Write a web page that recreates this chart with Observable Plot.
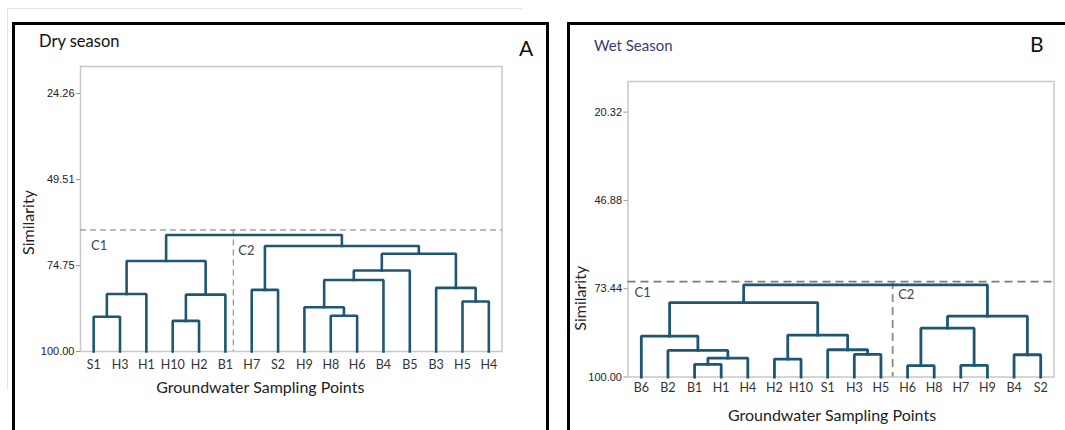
<!DOCTYPE html>
<html><head><meta charset="utf-8">
<script src="https://cdn.jsdelivr.net/npm/d3@7"></script>
<script src="https://cdn.jsdelivr.net/npm/@observablehq/plot@0.6"></script>
<style>
body{margin:0;background:#fff;font-family:Lato,"Open Sans",sans-serif;}
#page{position:relative;width:1065px;height:430px;overflow:hidden;background:#fff;}
.abs{position:absolute;}
.t{position:absolute;line-height:1;white-space:nowrap;transform:translateY(-50%);}
svg{position:absolute;top:0;}
</style></head><body><div id="page"></div>
<script>
// ---------- DATA ----------
const dryLeaves = ["S1","H3","H1","H10","H2","B1","H7","S2","H9","H8","H6","B4","B5","B3","H5","H4"];
const dryMerges = [["S1","H3"],["H10","H2"],["m0","H1"],["m1","B1"],["m2","m3"],
  ["H8","H6"],["H9","m5"],["m6","B4"],["m7","B5"],["H5","H4"],["B3","m9"],["m8","m10"],
  ["H7","S2"],["m12","m11"],["m4","m13"]];
const drySimilarity = [89.8,91.0,83.1,83.3,73.4,89.5,87.0,79.0,76.2,85.3,81.3,71.3,81.9,69.0,65.8];
const dryTicks = [24.26,49.51,74.75,100.00];
const dryAxisTop = 16.3;
const dryCut = 64.3;
const dryDivider = 5.3;

const wetLeaves = ["B6","B2","B1","H1","H4","H2","H10","S1","H3","H5","H6","H8","H7","H9","B4","S2"];
const wetMerges = [["B1","H1"],["m0","H4"],["B2","m1"],["B6","m2"],["H2","H10"],["H3","H5"],
  ["S1","m5"],["m4","m6"],["m3","m7"],["H6","H8"],["H7","H9"],["m9","m10"],["B4","S2"],
  ["m11","m12"],["m8","m13"]];
const wetSimilarity = [96.2,94.3,92.0,87.7,94.6,93.2,91.8,87.4,77.6,96.6,96.5,85.3,93.3,81.7,72.3];
const wetTicks = [20.32,46.88,73.44,100.00];
const wetAxisTop = 11.1;
const wetCut = 71.3;
const wetDivider = 9.44;

const clusterNames = ["C1","C2"];
const xTitle = "Groundwater Sampling Points";
const yTitle = "Similarity";

// ---------- BUILD ----------
function dendroRows(leaves, merges, sims) {
  const pos = new Map(leaves.map((d, i) => [d, {x: i, y: 100}]));
  const rows = [];
  merges.forEach(([a, b], k) => {
    const A = pos.get(a), B = pos.get(b), s = sims[k];
    rows.push({id: k, x: A.x, y: A.y}, {id: k, x: A.x, y: s}, {id: k, x: B.x, y: s}, {id: k, x: B.x, y: B.y});
    pos.set("m" + k, {x: (A.x + B.x) / 2, y: s});
  });
  return rows;
}

const lineColor = "#1f5673";

function panel(c) {
  const n = c.leaves.length;
  const rows = dendroRows(c.leaves, c.merges, c.sims);
  return Plot.plot({
    width: c.width, height: 430,
    marginLeft: c.ml, marginRight: c.mr, marginTop: c.mt, marginBottom: c.mb,
    x: {domain: [-0.5, n - 0.5], axis: null},
    y: {domain: [100, c.top], axis: null},
    style: {background: "transparent", fontFamily: "Lato, 'Open Sans', sans-serif", overflow: "visible"},
    marks: [
      Plot.frame({stroke: "#c8c8c8", strokeWidth: 1.5}),
      Plot.axisY({ticks: c.ticks, tickFormat: d => d.toFixed(2), tickSize: 4, tickPadding: 2,
        fontSize: 11, fill: "#222", stroke: "#999", label: null, fontFamily: "'Liberation Sans', sans-serif"}),
      Plot.axisX({ticks: d3.range(n), tickFormat: i => c.leaves[i], tickSize: 0, tickPadding: c.xpad,
        fontSize: 12.5, fill: "#333", label: null}),
      Plot.ruleY([c.cut], {x1: -0.5, x2: n - 0.5, stroke: "#7a7a7a", strokeWidth: c.dashW, strokeDasharray: c.dash}),
      Plot.ruleX([c.divider], {y1: c.cut, y2: 100, stroke: "#8a8a8a", strokeWidth: c.dashW, strokeDasharray: c.dash}),
      Plot.line(rows, {x: "x", y: "y", z: "id", stroke: lineColor, strokeWidth: c.lw, strokeLinejoin: "miter", strokeLinecap: "square"}),
      Plot.text([clusterNames[0]], {x: -0.5, y: c.cut, dx: c.c1dx, dy: c.c1dy, textAnchor: "start", fontSize: 13, fill: "#444"}),
      Plot.text([clusterNames[1]], {x: c.divider, y: c.cut, dx: c.c2dx, dy: c.c2dy, textAnchor: "start", fontSize: 13, fill: "#444"}),
      Plot.text([yTitle], {frameAnchor: "left", rotate: -90, textAnchor: "middle", lineAnchor: "middle",
        dx: c.ytdx, dy: c.ytdy, fontSize: 16, fill: "#222"}),
      Plot.text([xTitle], {frameAnchor: "bottom", textAnchor: "middle", lineAnchor: "middle",
        dx: c.xtdx, dy: c.xtdy, fontSize: 16, fill: "#222"})
    ]
  });
}

const page = document.getElementById("page");

function addDiv(cls, css, text) {
  const d = document.createElement("div");
  d.className = cls;
  d.style.cssText = css;
  if (text) d.textContent = text;
  page.appendChild(d);
  return d;
}

// faint screenshot guide lines
addDiv("abs", "left:7px;top:8px;width:515px;height:1px;background:#e4e4e4;");
addDiv("abs", "left:7px;top:8px;width:1px;height:382px;background:#e4e4e4;");

const svgA = panel({
  leaves: dryLeaves, merges: dryMerges, sims: drySimilarity, ticks: dryTicks, top: dryAxisTop,
  cut: dryCut, divider: dryDivider, width: 555, ml: 80, mr: 53.5, mt: 66, mb: 79, xpad: 9,
  lw: 2.6, dashW: 1.1, dash: "6,4",
  c1dx: 10.5, c1dy: 16, c2dx: 5, c2dy: 21,
  ytdx: -52, ytdy: 13.5, xtdx: -31, xtdy: 36.5
});
svgA.style.left = "0px";
page.appendChild(svgA);

const svgB = panel({
  leaves: wetLeaves, merges: wetMerges, sims: wetSimilarity, ticks: wetTicks, top: wetAxisTop,
  cut: wetCut, divider: wetDivider, width: 510, ml: 72.5, mr: 11.5, mt: 81, mb: 53.5, xpad: 6,
  lw: 2.8, dashW: 1.8, dash: "8,5",
  c1dx: 6.5, c1dy: 11, c2dx: 5.5, c2dy: 13,
  ytdx: -46.7, ytdy: 69, xtdx: -9, xtdy: 39
});
svgB.style.left = "555px";
page.appendChild(svgB);

// panel borders
addDiv("abs", "left:12px;top:22px;width:537px;height:440px;border:3px solid #000;box-sizing:border-box;z-index:3;");
addDiv("abs", "left:567px;top:22px;width:520px;height:440px;border:3px solid #000;box-sizing:border-box;z-index:3;");

// titles
addDiv("t", "left:39px;top:41px;font-size:16.5px;color:#111;", "Dry season");
addDiv("t", "left:519px;top:47px;font-size:21px;color:#111;", "A");
addDiv("t", "left:594px;top:44.5px;font-size:15px;color:#3c3c6c;", "Wet Season");
addDiv("t", "left:1030px;top:43px;font-size:21px;color:#111;", "B");
</script>
</body></html>
